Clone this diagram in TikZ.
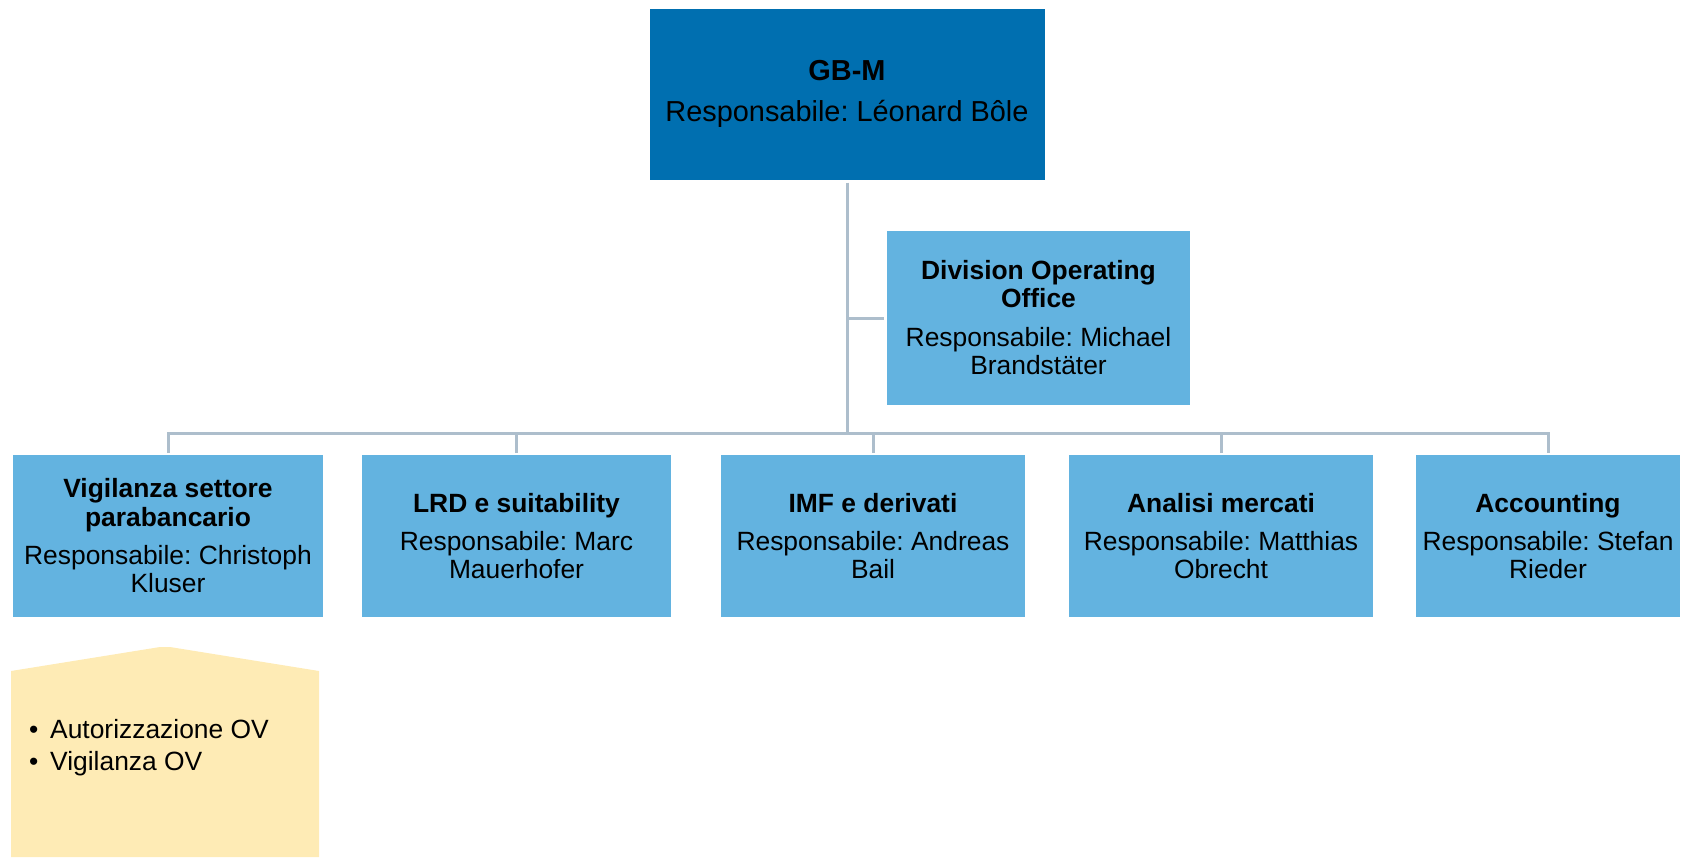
\documentclass[tikz,border=0pt]{standalone}
\usepackage{fontspec}
\setmainfont{Liberation Sans}
\definecolor{darkblue}{RGB}{0,111,176}
\definecolor{lightblue}{RGB}{99,179,224}
\definecolor{paleyellow}{RGB}{254,235,181}
\definecolor{linec}{RGB}{173,190,204}
\frenchspacing
\begin{document}
\begin{tikzpicture}[x=1pt,y=-1pt,
  box/.style={fill=lightblue, draw=none, inner sep=0pt, outer sep=0pt, align=center,
    minimum height=162pt, font=\fontsize{26.4}{28.5}\selectfont},
  conn/.style={draw=linec, line width=3pt}]
\useasboundingbox (0,0) rectangle (1688,857);
% top box
\node[box, fill=darkblue, minimum width=395pt, minimum height=171pt,
  font=\fontsize{28.9}{33}\selectfont] (gbm) at (847,94)
  {\textbf{GB-M}\\[8pt]Responsabile: Léonard Bôle};
% staff box
\node[box, minimum width=303pt, minimum height=174pt, font=\fontsize{26.4}{28}\selectfont] (doo) at (1038.5,318)
  {\textbf{Division Operating}\\\textbf{Office}\\[11pt]Responsabile: Michael\\Brandstäter};
% units
\node[box, minimum width=310pt] (b1) at (168,536)
  {\textbf{Vigilanza settore}\\\textbf{parabancario}\\[9.5pt]Responsabile: Christoph\\Kluser};
\node[box, minimum width=309pt] (b2) at (516.5,536)
  {\textbf{LRD e suitability}\\[9.5pt]Responsabile: Marc\\Mauerhofer};
\node[box, minimum width=304pt] (b3) at (873,536)
  {\textbf{IMF e derivati}\\[9.5pt]Responsabile: Andreas\\Bail};
\node[box, minimum width=304pt] (b4) at (1221,536)
  {\textbf{Analisi mercati}\\[9.5pt]Responsabile: Matthias\\Obrecht};
\node[box, minimum width=264pt] (b5) at (1548,536)
  {\textbf{Accounting}\\[9.5pt]Responsabile: Stefan\\Rieder};
% connectors
\coordinate (bus) at (847,433);
\draw[conn] ([yshift=-3pt]gbm.south) -- (bus);
\draw[conn] ([xshift=-3pt]doo.west) -- (doo.west -| bus);
\draw[conn] ([yshift=2pt]b1.north) -- (b1.north |- bus) -- (b5.north |- bus) -- ([yshift=2pt]b5.north);
\foreach \n in {b2,b3,b4}{
  \draw[conn] ([yshift=2pt]\n.north) -- (\n.north |- bus);
}
% task box
\fill[paleyellow] (11,671) -- (160,647) -- (170,647) -- (319,671) -- (319,857) -- (11,857) -- cycle;
\node[anchor=west, inner sep=0pt, align=left, font=\fontsize{26.4}{32}\selectfont] (tasks) at (29,748)
  {\makebox[21pt][l]{\textbullet}Autorizzazione OV\\\makebox[21pt][l]{\textbullet}Vigilanza OV};
\end{tikzpicture}
\end{document}
